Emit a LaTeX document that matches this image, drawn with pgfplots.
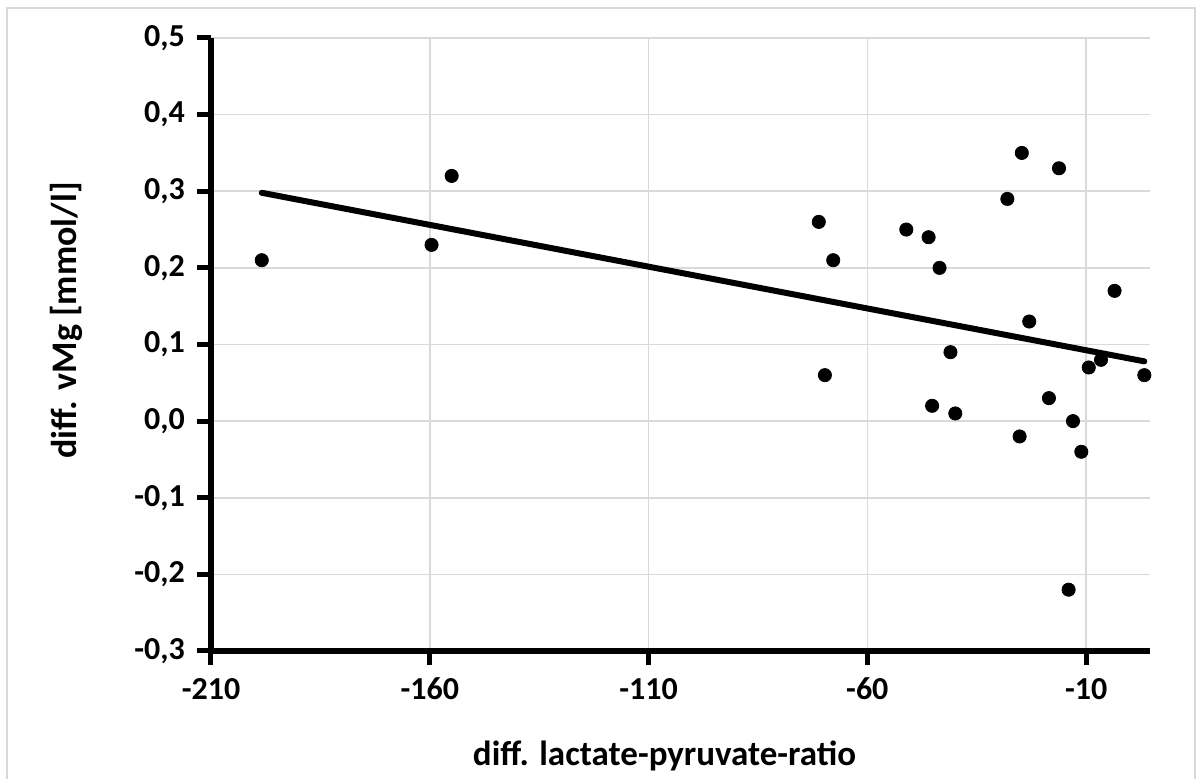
\documentclass[border=0pt]{standalone}
\usepackage{fontspec}
\setmainfont{Carlito}
\usepackage{pgfplots}
\pgfplotsset{compat=1.18}
\definecolor{GridGray}{HTML}{D9D9D9}
\definecolor{FrameGray}{HTML}{D9D9D9}

\pgfplotstableread{
x y
-198.4 0.21
-159.6 0.23
-155.0 0.32
-71.1 0.26
-67.8 0.21
-69.7 0.06
-51.1 0.25
-46.0 0.24
-43.5 0.20
-41.0 0.09
-45.2 0.02
-39.9 0.01
-24.7 0.35
-16.2 0.33
-28.0 0.29
-3.5 0.17
-23.0 0.13
-6.6 0.08
-9.4 0.07
3.3 0.06
-18.5 0.03
-13.0 0.00
-25.2 -0.02
-11.1 -0.04
-14.0 -0.22
}\points

\begin{document}
\begin{tikzpicture}
\begin{axis}[
  scale only axis, width=469.5pt, height=306.5pt,
  xmin=-210, xmax=4.6, ymin=-0.3, ymax=0.5,
  xtick={-210,-160,-110,-60,-10},
  ytick={-0.3,-0.2,-0.1,0,0.1,0.2,0.3,0.4,0.5},
  axis x line=bottom, axis y line=left,
  axis line style={-, line width=3pt, black},
  tick align=outside, major tick length=7pt,
  tick style={line width=2.5pt, black},
  grid=major, grid style={GridGray, line width=0.8pt},
  /pgf/number format/assume math mode=true,
  yticklabel={\pgfmathprintnumber[fixed, fixed zerofill, precision=1, use comma]{\tick}},
  ticklabel style={font=\fontsize{16}{19}\selectfont\bfseries},
  yticklabel style={xshift=-2.5pt},
  xticklabel style={yshift=-3pt},
  xlabel={diff. lactate-pyruvate-ratio},
  ylabel={diff. vMg [mmol/l]},
  xlabel style={font=\fontsize{17.5}{21}\selectfont\bfseries, at={(axis description cs:0.5,0)}, anchor=base, yshift=-57.5pt, xshift=-8pt},
  ylabel style={font=\fontsize{18}{21}\selectfont\bfseries, at={(axis description cs:0,0.5)}, anchor=base, yshift=67pt, xshift=12pt},
  clip=false,
]
\addplot[only marks, mark=*, mark size=3.3pt, black] table[x=x, y=y] {\points};
\addplot[black, line width=3pt, line cap=round] coordinates {(-198.4,0.298) (3.3,0.078)};
\end{axis}
\draw[FrameGray, line width=0.6pt] (-102pt,-64.5pt) rectangle (492pt,321.5pt);
\pgfresetboundingbox
\useasboundingbox (-105.5pt,-64pt) rectangle (496pt,325.5pt);
\end{tikzpicture}
\end{document}
